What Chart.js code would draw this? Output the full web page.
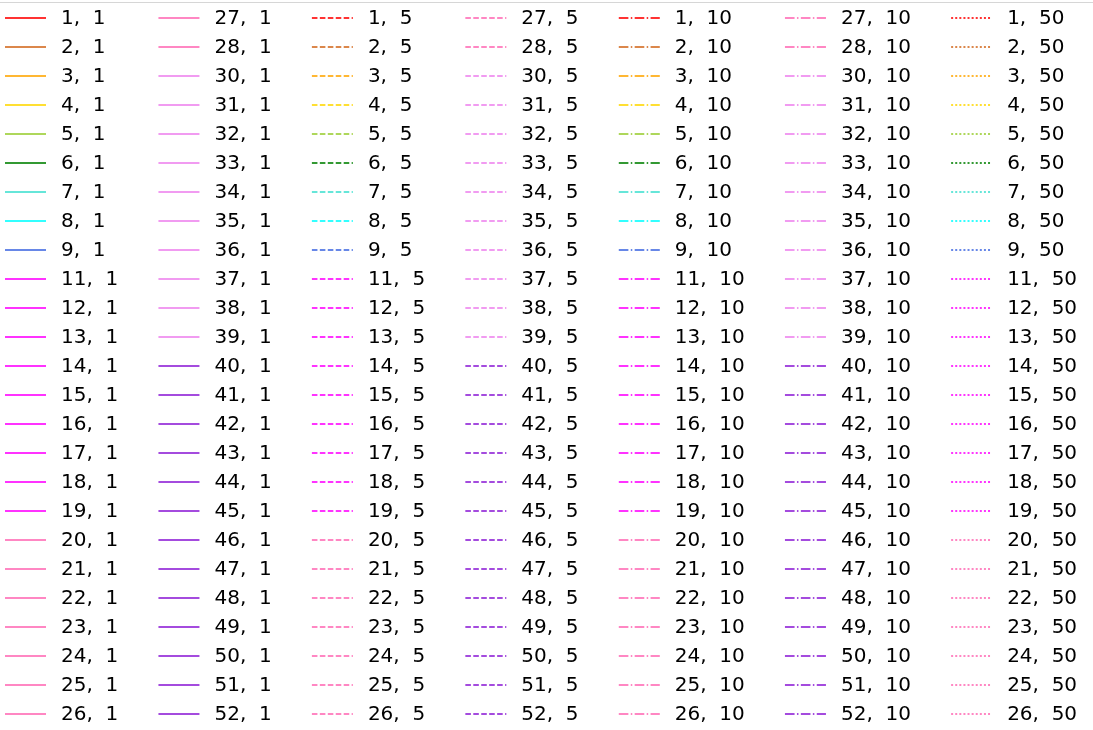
<!DOCTYPE html>
<html>
<head>
<meta charset="utf-8">
<script src="https://cdn.jsdelivr.net/npm/chart.js@4"></script>
<style>
  html, body { margin: 0; padding: 0; background: #ffffff; }
  body { width: 1093px; height: 730px; overflow: hidden; position: relative; }
  #frame { position: absolute; left: -10px; top: 2px; width: 1200px; height: 800px;
           border: 1px solid #d6d6d6; border-radius: 4px; box-sizing: border-box; }
  #c { position: absolute; left: -4px; top: 0px; }
</style>
</head>
<body>
<div id="frame"></div>
<canvas id="c" width="1097" height="745" style="width:1097px;height:745px"></canvas>
<script>
// ---- data ----
const weekIds = [1, 2, 3, 4, 5, 6, 7, 8, 9, 11, 12, 13, 14, 15, 16, 17, 18, 19, 20, 21, 22, 23, 24, 25, 26,
                 27, 28, 30, 31, 32, 33, 34, 35, 36, 37, 38, 39, 40, 41, 42, 43, 44, 45, 46, 47, 48, 49, 50, 51, 52];
const windowSizes = [1, 5, 10, 50];
const categories = [];          // no plotted points are visible in the crop
const seriesValues = [];        // each series is empty in the visible region

// ---- styles ----
const groupColors = [
  { ids: [1], color: 'rgba(255,0,0,0.8)' },
  { ids: [2], color: 'rgba(210,105,30,0.8)' },
  { ids: [3], color: 'rgba(255,165,0,0.8)' },
  { ids: [4], color: 'rgba(255,215,0,0.8)' },
  { ids: [5], color: 'rgba(154,205,50,0.8)' },
  { ids: [6], color: 'rgba(0,128,0,0.8)' },
  { ids: [7], color: 'rgba(64,224,208,0.8)' },
  { ids: [8], color: 'rgba(0,255,255,0.8)' },
  { ids: [9], color: 'rgba(65,105,225,0.8)' },
  { ids: [11,12,13,14,15,16,17,18,19], color: 'rgba(255,0,255,0.8)' },
  { ids: [20,21,22,23,24,25,26,27,28], color: 'rgba(255,105,180,0.8)' },
  { ids: [30,31,32,33,34,35,36,37,38,39], color: 'rgba(238,130,238,0.8)' },
  { ids: [40,41,42,43,44,45,46,47,48,49,50,51,52], color: 'rgba(148,43,216,0.85)' }
];
function colorFor(id) {
  const g = groupColors.find(g => g.ids.includes(id));
  return g ? g.color : '#000';
}
const dashFor = { 1: [], 5: [5.55, 2.4], 10: [9.6, 2.4, 1.5, 2.4], 50: [2, 2.1] };
const HANDLE_LEN = 41;

function maskDash(pattern, len) {
  if (!pattern || !pattern.length) return [len, 4000];
  const segs = [];
  let total = 0, i = 0;
  while (total < len - 1e-6) {
    let s = pattern[i % pattern.length];
    if (total + s > len) s = len - total;
    segs.push(s);
    total += s;
    i++;
  }
  if (segs.length % 2 === 1) segs.push(4000);
  else segs[segs.length - 1] += 4000;
  return segs;
}

const datasets = [];
windowSizes.forEach(w => {
  weekIds.forEach(id => {
    datasets.push({
      label: id + ',  ' + w,
      data: seriesValues,
      borderColor: colorFor(id),
      backgroundColor: colorFor(id),
      borderWidth: 2,
      borderDash: dashFor[w],
      pointRadius: 0,
      fill: false
    });
  });
});

const legendColumnGap = {
  id: 'legendColumnGap',
  afterUpdate(chart) {
    const lg = chart.legend;
    if (lg && lg.columnSizes) {
      lg.columnSizes.forEach(c => {
        if (!c._widened) { c.width += 31.2; c._widened = true; }
      });
    }
  }
};

new Chart(document.getElementById('c'), {
  type: 'line',
  data: { labels: categories, datasets },
  plugins: [legendColumnGap],
  options: {
    responsive: false,
    animation: false,
    events: [],
    layout: { padding: 0, autoPadding: false },
    scales: { x: { display: false }, y: { display: false } },
    plugins: {
      tooltip: { enabled: false },
      legend: {
        display: true,
        position: 'chartArea',
        fullSize: false,
        align: 'start',
        labels: {
          color: '#000000',
          font: { family: "'DejaVu Sans'", size: 20 },
          padding: 9,
          usePointStyle: false,
          boxWidth: 46,
          boxHeight: 2,
          generateLabels(chart) {
            const items = Chart.defaults.plugins.legend.labels.generateLabels(chart);
            items.forEach(it => {
              const ds = chart.data.datasets[it.datasetIndex];
              it.fillStyle = 'rgba(0,0,0,0)';
              it.lineWidth = ds.borderWidth;
              it.strokeStyle = ds.borderColor;
              it.lineDash = maskDash(ds.borderDash, HANDLE_LEN);
              it.lineDashOffset = 0;
              it.lineCap = 'butt';
              it.borderRadius = 0;
            });
            return items;
          }
        }
      }
    }
  }
});
</script>
</body>
</html>
